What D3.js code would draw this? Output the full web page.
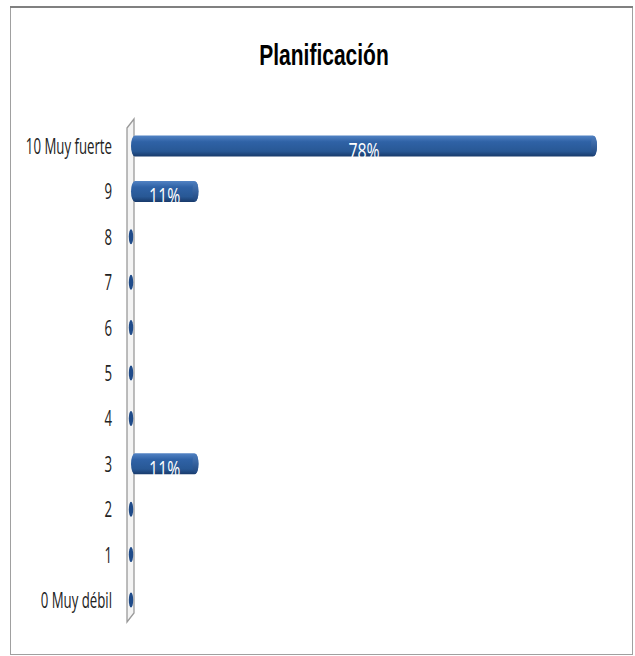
<!DOCTYPE html>
<html>
<head>
<meta charset="utf-8">
<script src="https://cdn.jsdelivr.net/npm/d3@7"></script>
<style>
  body { margin: 0; background: #fff; }
</style>
</head>
<body>
<div id="chart"></div>
<script>
// data, top row first
const categories = ["10 Muy fuerte", "9", "8", "7", "6", "5", "4", "3", "2", "1", "0 Muy débil"];
const values = [78, 11, 0, 0, 0, 0, 0, 11, 0, 0, 0];
const labels = ["78%", "11%", "", "", "", "", "", "11%", "", "", ""];
const chartTitle = "Planificación";

const W = 635, H = 656;
const svg = d3.select("#chart").append("svg")
    .attr("width", W)
    .attr("height", H);

// frame
svg.append("rect")
    .attr("x", 10.5).attr("y", 7.5)
    .attr("width", 622).attr("height", 647)
    .attr("fill", "#fff")
    .attr("stroke", "#a0a0a0");
svg.append("line")
    .attr("x1", 10).attr("x2", 633)
    .attr("y1", 7).attr("y2", 7)
    .attr("stroke", "#808080").attr("stroke-width", 2);

// title, bold font squeezed to look like arial narrow
svg.append("text")
    .attr("transform", "translate(324,65) scale(0.7,1)")
    .attr("text-anchor", "middle")
    .style("font-family", "'Liberation Sans', Arial, sans-serif")
    .style("font-weight", "bold")
    .style("font-size", "30px")
    .style("fill", "#000")
    .text(chartTitle);

const x0 = 131;
const x = d3.scaleLinear().domain([0, 78]).range([133, 597]);
const y = d3.scalePoint().domain(categories).range([146, 600]);
const barH = 21;

// the 3d wall behind the axis
svg.append("path")
    .attr("d", "M127,128 L134,119 L134,613 L127,622 Z")
    .attr("fill", "#f4f4f4")
    .attr("stroke", "#9a9a9a")
    .attr("stroke-width", 1.3);

// gradient for the cylinders
const defs = svg.append("defs");
const grad = defs.append("linearGradient")
    .attr("id", "cyl").attr("x1", 0).attr("y1", 0).attr("x2", 0).attr("y2", 1);
[["0%", "#5283c4"], ["30%", "#2f62a6"], ["75%", "#285895"], ["100%", "#183a6b"]].forEach(s => {
    grad.append("stop").attr("offset", s[0]).attr("stop-color", s[1]);
});
const capGrad = defs.append("linearGradient")
    .attr("id", "cap").attr("x1", 0).attr("y1", 0).attr("x2", 0).attr("y2", 1);
[["0%", "#4c7cbc"], ["100%", "#1f467e"]].forEach(s => {
    capGrad.append("stop").attr("offset", s[0]).attr("stop-color", s[1]);
});

const rows = categories.map((c, i) => ({ cat: c, value: values[i], label: labels[i] }));

// bars
const g = svg.append("g");
g.selectAll(".bar")
    .data(rows.filter(d => d.value > 0))
    .join("rect")
    .attr("class", "bar")
    .attr("x", x0)
    .attr("y", d => y(d.cat) - barH / 2)
    .attr("width", d => x(d.value) - x0)
    .attr("height", barH)
    .attr("rx", 4).attr("ry", barH / 2)
    .attr("fill", "url(#cyl)");

g.selectAll(".cap")
    .data(rows.filter(d => d.value > 0))
    .join("ellipse")
    .attr("class", "cap")
    .attr("cx", d => x(d.value) - 3)
    .attr("cy", d => y(d.cat))
    .attr("rx", 3)
    .attr("ry", barH / 2 - 0.5)
    .attr("fill", "url(#cap)");

// zero values only show the little end disc
g.selectAll(".zero")
    .data(rows.filter(d => d.value === 0))
    .join("ellipse")
    .attr("class", "zero")
    .attr("cx", x0)
    .attr("cy", d => y(d.cat))
    .attr("rx", 2.2)
    .attr("ry", 7.5)
    .attr("fill", "#1f4b8a");

// value labels
g.selectAll(".lbl")
    .data(rows.filter(d => d.label))
    .join("text")
    .attr("class", "lbl")
    .attr("transform", d => `translate(${(x0 + x(d.value)) / 2},${y(d.cat) + 13}) scale(0.72,1)`)
    .attr("text-anchor", "middle")
    .style("font-family", "'Open Sans', 'DejaVu Sans', sans-serif")
    .style("font-size", "22px")
    .style("fill", "#fff")
    .text(d => d.label);

// category labels
const yAxis = svg.append("g");
yAxis.selectAll(".tick")
    .data(categories)
    .join("text")
    .attr("class", "tick")
    .attr("transform", d => `translate(112,${y(d) + 8}) scale(0.63,1)`)
    .attr("text-anchor", "end")
    .style("font-family", "'Open Sans', 'DejaVu Sans', sans-serif")
    .style("font-size", "21px")
    .style("fill", "#222")
    .text(d => d);
</script>
</body>
</html>
